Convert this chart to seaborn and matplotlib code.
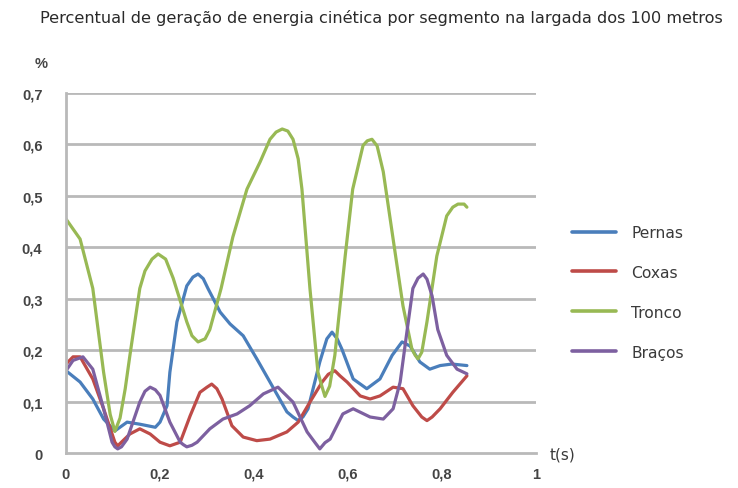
import matplotlib
matplotlib.use("Agg")
import matplotlib.pyplot as plt
import seaborn as sns
import pandas as pd
from matplotlib.lines import Line2D

sns.set_theme(style="white")
plt.rcParams['font.family'] = ['Liberation Sans', 'DejaVu Sans']

title = "Percentual de geração de energia cinética por segmento na largada dos 100 metros"
series_names = ["Pernas", "Coxas", "Tronco", "Braços"]
colors = ["#4a7ebb", "#be4b48", "#98b954", "#7d60a0"]

pernas_t = [0, 0.03, 0.057, 0.08, 0.104, 0.13, 0.157, 0.19, 0.2, 0.215, 0.221, 0.236, 0.257,
            0.27, 0.281, 0.292, 0.302, 0.328, 0.349, 0.377, 0.406, 0.434, 0.47, 0.483, 0.494,
            0.504, 0.515, 0.54, 0.555, 0.566, 0.577, 0.587, 0.611, 0.64, 0.668, 0.694, 0.715,
            0.732, 0.753, 0.774, 0.796, 0.821, 0.853]
pernas_v = [0.16, 0.138, 0.105, 0.066, 0.043, 0.06, 0.056, 0.05, 0.06, 0.092, 0.157, 0.255, 0.325,
            0.342, 0.348, 0.339, 0.32, 0.274, 0.251, 0.228, 0.183, 0.138, 0.08, 0.07, 0.063,
            0.07, 0.086, 0.177, 0.222, 0.235, 0.222, 0.202, 0.144, 0.125, 0.144, 0.19, 0.216,
            0.208, 0.177, 0.163, 0.17, 0.173, 0.17]

coxas_t = [0, 0.015, 0.03, 0.057, 0.08, 0.104, 0.11, 0.136, 0.157, 0.179, 0.2, 0.221, 0.243,
           0.264, 0.285, 0.3, 0.31, 0.321, 0.332, 0.353, 0.377, 0.406, 0.434, 0.47, 0.494,
           0.519, 0.545, 0.558, 0.572, 0.583, 0.598, 0.626, 0.647, 0.668, 0.696, 0.717, 0.738,
           0.757, 0.768, 0.779, 0.796, 0.823, 0.853]
coxas_v = [0.173, 0.187, 0.187, 0.144, 0.086, 0.021, 0.014, 0.037, 0.047, 0.037, 0.021, 0.014, 0.021,
           0.072, 0.118, 0.128, 0.134, 0.125, 0.105, 0.053, 0.031, 0.024, 0.027, 0.041, 0.06,
           0.099, 0.138, 0.153, 0.16, 0.15, 0.138, 0.111, 0.105, 0.111, 0.128, 0.125, 0.092,
           0.07, 0.063, 0.07, 0.086, 0.118, 0.15]

tronco_t = [0, 0.03, 0.057, 0.08, 0.094, 0.104, 0.115, 0.126, 0.136, 0.157, 0.168, 0.183, 0.196,
            0.212, 0.228, 0.257, 0.268, 0.281, 0.296, 0.306, 0.33, 0.355, 0.385, 0.413, 0.434,
            0.447, 0.46, 0.472, 0.483, 0.494, 0.502, 0.519, 0.536, 0.545, 0.551, 0.561, 0.572,
            0.594, 0.61, 0.632, 0.641, 0.651, 0.662, 0.675, 0.696, 0.717, 0.736, 0.743, 0.749,
            0.757, 0.768, 0.789, 0.81, 0.823, 0.834, 0.847, 0.853]
tronco_v = [0.455, 0.416, 0.32, 0.157, 0.075, 0.042, 0.068, 0.125, 0.19, 0.32, 0.354, 0.377, 0.387,
            0.377, 0.34, 0.255, 0.228, 0.216, 0.222, 0.24, 0.32, 0.42, 0.513, 0.566, 0.61,
            0.624, 0.63, 0.626, 0.61, 0.572, 0.513, 0.32, 0.157, 0.128, 0.11, 0.13, 0.19,
            0.383, 0.513, 0.598, 0.607, 0.61, 0.597, 0.547, 0.416, 0.286, 0.202, 0.19, 0.183,
            0.196, 0.255, 0.383, 0.461, 0.478, 0.484, 0.484, 0.478]

bracos_t = [0, 0.015, 0.036, 0.057, 0.08, 0.098, 0.104, 0.11, 0.118, 0.13, 0.157, 0.168, 0.179,
            0.19, 0.2, 0.221, 0.243, 0.25, 0.257, 0.268, 0.279, 0.306, 0.334, 0.364, 0.391,
            0.42, 0.451, 0.483, 0.513, 0.53, 0.54, 0.551, 0.562, 0.589, 0.611, 0.647, 0.675,
            0.696, 0.711, 0.726, 0.738, 0.749, 0.76, 0.768, 0.779, 0.791, 0.81, 0.832, 0.853]
bracos_v = [0.16, 0.18, 0.187, 0.163, 0.086, 0.021, 0.012, 0.008, 0.012, 0.027, 0.099, 0.12, 0.128,
            0.123, 0.112, 0.06, 0.021, 0.016, 0.012, 0.015, 0.021, 0.047, 0.066, 0.076, 0.092,
            0.115, 0.128, 0.099, 0.041, 0.02, 0.008, 0.02, 0.027, 0.076, 0.086, 0.07, 0.066,
            0.086, 0.138, 0.24, 0.32, 0.34, 0.348, 0.338, 0.305, 0.24, 0.19, 0.163, 0.154]

x_ticks = [0, 0.2, 0.4, 0.6, 0.8, 1]
x_tick_labels = ["0", "0,2", "0,4", "0,6", "0,8", "1"]
y_ticks = [0, 0.1, 0.2, 0.3, 0.4, 0.5, 0.6, 0.7]
y_tick_labels = ["0", "0,1", "0,2", "0,3", "0,4", "0,5", "0,6", "0,7"]

frames = []
for name, t, v in [("Pernas", pernas_t, pernas_v), ("Coxas", coxas_t, coxas_v),
                   ("Tronco", tronco_t, tronco_v), ("Braços", bracos_t, bracos_v)]:
    frames.append(pd.DataFrame({"t": t, "v": v, "serie": name}))
df = pd.concat(frames, ignore_index=True)

fig = plt.figure(figsize=(7.38, 4.89), dpi=100)
ax = fig.add_axes([66 / 738, 1 - 454 / 489, (536 - 66) / 738, (454 - 94) / 489])

sns.lineplot(data=df, x="t", y="v", hue="serie", hue_order=series_names,
             palette=colors, sort=False, estimator=None, linewidth=2.3,
             ax=ax, legend=False)
for line in ax.get_lines():
    line.set_solid_joinstyle("round")
    line.set_solid_capstyle("round")

grid_color = "#b9b9b9"
ax.set_xlim(0, 1)
ax.set_ylim(0, 0.7)
ax.set_yticks(y_ticks)
ax.set_yticklabels(y_tick_labels)
ax.set_xticks(x_ticks)
ax.set_xticklabels(x_tick_labels)
for y in y_ticks[1:]:
    ax.axhline(y, color=grid_color, lw=2.0, zorder=0)
for s in ["top", "right"]:
    ax.spines[s].set_visible(False)
for s in ["left", "bottom"]:
    ax.spines[s].set_color(grid_color)
    ax.spines[s].set_linewidth(2.0)
ax.tick_params(axis="both", length=5, width=1.5, color=grid_color, labelsize=10.5,
               labelcolor="#444444", direction="out")
ax.tick_params(axis="y", pad=12)
ax.tick_params(axis="x", pad=5)
for lab in ax.get_xticklabels() + ax.get_yticklabels():
    lab.set_fontweight("bold")
ax.set_xlabel("")
ax.set_ylabel("")

fig.text(40 / 738, 1 - 18 / 489, title, ha="left", va="center", fontsize=11.6,
         color="#2a2a2a", family=["DejaVu Sans"])
fig.text(41 / 738, 1 - 64 / 489, "%", ha="center", va="center", fontsize=10.5,
         color="#444444", fontweight="bold")
fig.text(550 / 738, 1 - 455 / 489, "t(s)", ha="left", va="center", fontsize=11,
         color="#3a3a3a", family=["DejaVu Sans"])

handles = [Line2D([0], [0], color=c, lw=2.6) for c in colors]
leg = fig.legend(handles, series_names, loc="upper left",
                 bbox_to_anchor=(558 / 738, 1 - 212 / 489), frameon=False,
                 prop={"family": "DejaVu Sans", "size": 11.2},
                 handlelength=2.8, handletextpad=1.0, labelspacing=1.6,
                 labelcolor="#3a3a3a")

fig.savefig("out.png", dpi=100)
